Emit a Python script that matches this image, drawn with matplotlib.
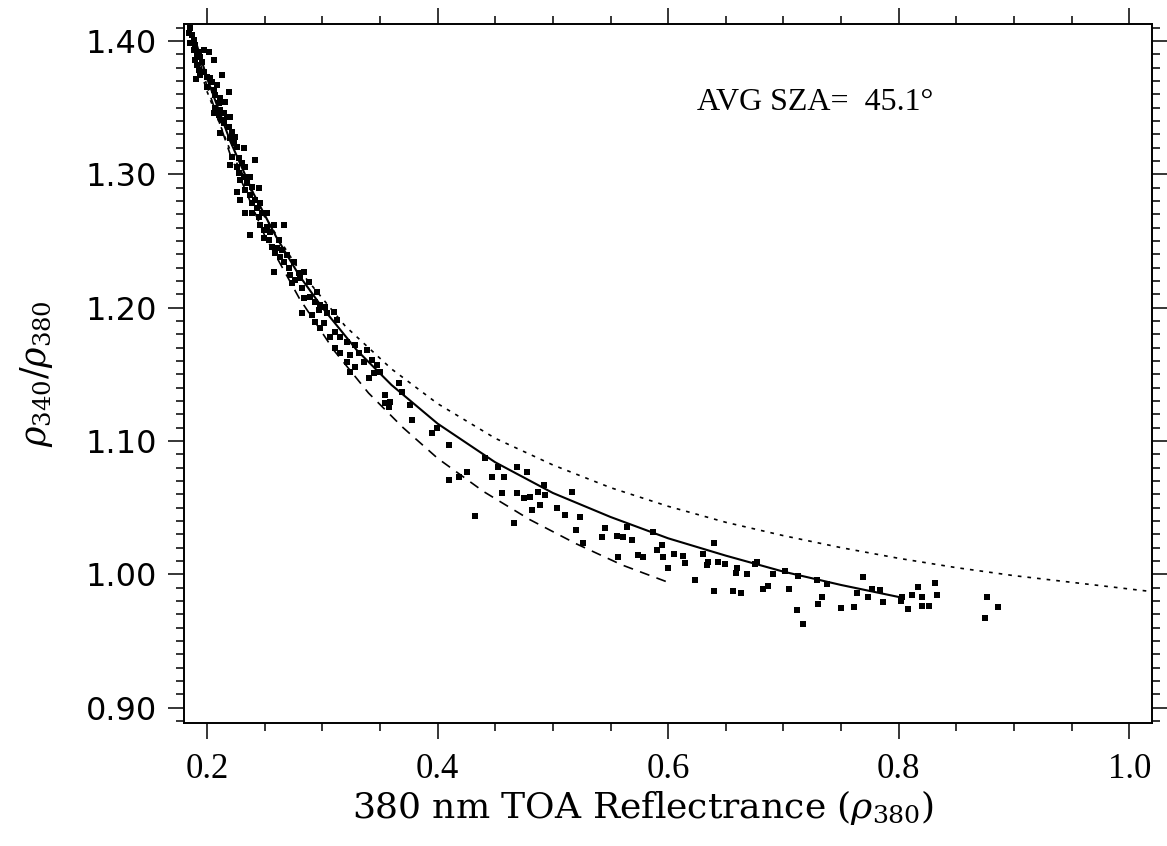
import matplotlib as mpl
import matplotlib.pyplot as plt
from matplotlib.ticker import MultipleLocator, FixedLocator

# scatter of retrieved points (rho380, rho340/rho380)
SCATTER_X = [
    0.1855, 0.1841, 0.1870, 0.1884, 0.1855, 0.1898, 0.1884, 0.1927, 0.1971, 0.2014,
    0.1913, 0.1942, 0.1898, 0.1956, 0.2058, 0.1913, 0.1927, 0.1971, 0.1942, 0.2000,
    0.2029, 0.2130, 0.1907, 0.2043, 0.2000, 0.2086, 0.2058, 0.2072, 0.2115, 0.2188,
    0.2101, 0.2159, 0.2072, 0.2115, 0.2101, 0.2144, 0.2058, 0.2173, 0.2130, 0.2202,
    0.2144, 0.2188, 0.2115, 0.2217, 0.2202, 0.2245, 0.2231, 0.2318, 0.2260, 0.2217,
    0.2274, 0.2419, 0.2202, 0.2260, 0.2303, 0.2332, 0.2274, 0.2318, 0.2376, 0.2289,
    0.2347, 0.2390, 0.2448, 0.2332, 0.2260, 0.2376, 0.2419, 0.2289, 0.2390, 0.2462,
    0.2433, 0.2332, 0.2390, 0.2477, 0.2520, 0.2448,
    0.2462, 0.2520, 0.2578, 0.2664, 0.2375, 0.2491, 0.2549, 0.2491, 0.2534, 0.2621,
    0.2563, 0.2607, 0.2650, 0.2592, 0.2636, 0.2693, 0.2751, 0.2664, 0.2578, 0.2708,
    0.2722, 0.2794, 0.2838, 0.2766, 0.2809, 0.2737, 0.2881, 0.2823, 0.2953, 0.2838,
    0.2896, 0.2939, 0.2982, 0.3026, 0.2823, 0.2910, 0.2968, 0.3040, 0.3098, 0.2939,
    0.3011, 0.3127, 0.2982, 0.3112, 0.3069, 0.3156, 0.3213, 0.3286, 0.3112, 0.3156,
    0.3242, 0.3315, 0.3387, 0.3213, 0.3286, 0.3358, 0.3430, 0.3474, 0.3445, 0.3503,
    0.3242, 0.3402,
    0.3661, 0.3690, 0.3546, 0.3589, 0.3546, 0.3575, 0.3763, 0.3777, 0.3950, 0.3994,
    0.4095, 0.4254, 0.4095, 0.4182, 0.4471, 0.4572, 0.4413, 0.4528, 0.4687, 0.4774,
    0.4557, 0.4687, 0.4745, 0.4803, 0.4875, 0.4890, 0.4919, 0.4933, 0.4817, 0.4659,
    0.4326,
    0.5164, 0.5106, 0.5237, 0.5034, 0.5202, 0.5265, 0.5424, 0.5453, 0.5554, 0.5612,
    0.5685, 0.5641, 0.5569, 0.5742, 0.5786, 0.5901, 0.5945, 0.5959, 0.6002, 0.6132,
    0.6147, 0.6234, 0.5872, 0.6054,
    0.6401, 0.6300, 0.6340, 0.6349, 0.6436, 0.6494, 0.6595, 0.6589, 0.6681, 0.6401,
    0.6566, 0.6630, 0.6754, 0.6768, 0.6820, 0.6869, 0.6913, 0.7014, 0.7051, 0.7129,
    0.7115, 0.7173, 0.7289, 0.7332, 0.7303, 0.7375, 0.7499, 0.7612, 0.7635, 0.7693,
    0.7736, 0.7765, 0.7837, 0.7866, 0.8025, 0.8017, 0.8083, 0.8112, 0.8170, 0.8199,
    0.8199, 0.8265, 0.8314, 0.8335,
    0.8762, 0.8863, 0.8748,
]
SCATTER_Y = [
    1.4095, 1.4058, 1.4045, 1.4008, 1.3983, 1.3970, 1.3933, 1.3920, 1.3933, 1.3920,
    1.3895, 1.3883, 1.3858, 1.3845, 1.3858, 1.3820, 1.3783, 1.3770, 1.3745, 1.3733,
    1.3720, 1.3745, 1.3713, 1.3695, 1.3658, 1.3670, 1.3633, 1.3595, 1.3570, 1.3620,
    1.3533, 1.3545, 1.3495, 1.3483, 1.3445, 1.3458, 1.3458, 1.3433, 1.3408, 1.3433,
    1.3383, 1.3358, 1.3308, 1.3320, 1.3270, 1.3283, 1.3233, 1.3200, 1.3208, 1.3133,
    1.3120, 1.3108, 1.3070, 1.3058, 1.3083, 1.3058, 1.3008, 1.2983, 1.2983, 1.2958,
    1.2933, 1.2908, 1.2895, 1.2883, 1.2870, 1.2845, 1.2808, 1.2808, 1.2783, 1.2783,
    1.2745, 1.2708, 1.2708, 1.2713, 1.2708, 1.2683,
    1.2620, 1.2608, 1.2620, 1.2620, 1.2545, 1.2583, 1.2570, 1.2520, 1.2508, 1.2508,
    1.2458, 1.2445, 1.2433, 1.2408, 1.2383, 1.2395, 1.2345, 1.2345, 1.2270, 1.2295,
    1.2245, 1.2258, 1.2270, 1.2208, 1.2220, 1.2183, 1.2195, 1.2145, 1.2120, 1.2070,
    1.2083, 1.2045, 1.2020, 1.2008, 1.1958, 1.1945, 1.1983, 1.1958, 1.1970, 1.1895,
    1.1883, 1.1908, 1.1845, 1.1820, 1.1783, 1.1783, 1.1745, 1.1720, 1.1695, 1.1658,
    1.1645, 1.1658, 1.1683, 1.1595, 1.1558, 1.1595, 1.1608, 1.1570, 1.1508, 1.1520,
    1.1520, 1.1470,
    1.1432, 1.1370, 1.1345, 1.1295, 1.1283, 1.1258, 1.1270, 1.1158, 1.1058, 1.1095,
    1.0970, 1.0770, 1.0708, 1.0733, 1.0733, 1.0733, 1.0870, 1.0808, 1.0808, 1.0770,
    1.0608, 1.0608, 1.0570, 1.0583, 1.0620, 1.0520, 1.0670, 1.0595, 1.0483, 1.0383,
    1.0440,
    1.0620, 1.0445, 1.0433, 1.0495, 1.0333, 1.0233, 1.0283, 1.0345, 1.0288, 1.0283,
    1.0258, 1.0358, 1.0133, 1.0145, 1.0133, 1.0183, 1.0220, 1.0133, 1.0045, 1.0138,
    1.0083, 0.9958, 1.0320, 1.0150,
    1.0238, 1.0150, 1.0070, 1.0095, 1.0090, 1.0075, 1.0045, 1.0008, 1.0003, 0.9878,
    0.9878, 0.9858, 1.0078, 1.0095, 0.9890, 0.9913, 1.0000, 1.0028, 0.9888, 0.9988,
    0.9733, 0.9628, 0.9958, 0.9833, 0.9775, 0.9925, 0.9750, 0.9758, 0.9863, 0.9983,
    0.9828, 0.9888, 0.9883, 0.9795, 0.9833, 0.9803, 0.9738, 0.9845, 0.9903, 0.9828,
    0.9763, 0.9763, 0.9933, 0.9845,
    0.9833, 0.9753, 0.9670,
]

# fitted curve (solid)
FIT_X = [0.19, 0.20, 0.22, 0.24, 0.26, 0.28, 0.30, 0.33, 0.36, 0.40,
         0.45, 0.50, 0.55, 0.60, 0.65, 0.70, 0.75, 0.80]
FIT_Y = [1.400, 1.372, 1.325, 1.286, 1.253, 1.224, 1.200, 1.168, 1.142, 1.113,
         1.084, 1.061, 1.043, 1.027, 1.014, 1.002, 0.992, 0.983]

# dashed model curve
DASH_X = [0.19, 0.20, 0.22, 0.25, 0.28, 0.31, 0.34, 0.37, 0.40, 0.44,
          0.48, 0.52, 0.56, 0.60]
DASH_Y = [1.395, 1.366, 1.315, 1.254, 1.207, 1.168, 1.136, 1.110, 1.087, 1.062,
          1.041, 1.023, 1.007, 0.994]

# dotted model curve
DOT_X = [0.19, 0.20, 0.22, 0.25, 0.28, 0.32, 0.36, 0.40, 0.45, 0.50,
         0.55, 0.60, 0.65, 0.70, 0.75, 0.80, 0.85, 0.90, 0.95, 1.02]
DOT_Y = [1.390, 1.362, 1.318, 1.268, 1.228, 1.186, 1.154, 1.128, 1.102, 1.082,
         1.065, 1.051, 1.039, 1.029, 1.020, 1.012, 1.005, 0.999, 0.994, 0.987]

X_TICKS = [0.2, 0.4, 0.6, 0.8, 1.0]
X_TICK_LABELS = ["0.2", "0.4", "0.6", "0.8", "1.0"]
Y_TICKS = [0.90, 1.00, 1.10, 1.20, 1.30, 1.40]
Y_TICK_LABELS = ["0.90", "1.00", "1.10", "1.20", "1.30", "1.40"]
AVG_SZA = 45.1


def main():
    mpl.rcParams.update({"mathtext.fontset": "dejavuserif"})

    fig = plt.figure(figsize=(11.67, 8.46), dpi=100)
    fig.patch.set_facecolor("white")
    ax = fig.add_axes([0.1577, 0.1454, 0.8297, 0.8259])

    ax.scatter(SCATTER_X, SCATTER_Y, s=13, marker="s", color="black", linewidths=0, zorder=3)
    ax.plot(FIT_X, FIT_Y, color="black", lw=1.5, zorder=4)
    ax.plot(DASH_X, DASH_Y, color="black", lw=1.2, dashes=(6, 4.5), zorder=2)
    ax.plot(DOT_X, DOT_Y, color="black", lw=1.2, dashes=(2.2, 3.6), zorder=2)

    ax.set_xlim(0.18, 1.02)
    ax.set_ylim(0.8885, 1.4125)

    ax.xaxis.set_major_locator(FixedLocator(X_TICKS))
    ax.set_xticklabels(X_TICK_LABELS)
    ax.xaxis.set_minor_locator(MultipleLocator(0.05))
    ax.yaxis.set_major_locator(FixedLocator(Y_TICKS))
    ax.set_yticklabels(Y_TICK_LABELS)
    ax.yaxis.set_minor_locator(MultipleLocator(0.01))

    ax.tick_params(which="both", direction="out", top=True, right=True, width=1.1, color="black")
    ax.tick_params(which="major", length=11.5)
    ax.tick_params(which="minor", length=5.8)
    ax.tick_params(axis="x", which="major", pad=10)
    ax.tick_params(axis="y", which="major", pad=8)
    for lab in ax.get_xticklabels():
        lab.set_fontfamily("Liberation Serif")
        lab.set_fontsize(25)
    for lab in ax.get_yticklabels():
        lab.set_fontfamily("DejaVu Sans")
        lab.set_fontsize(23)
    for sp in ax.spines.values():
        sp.set_linewidth(1.4)

    ax.set_xlabel(r"380 nm TOA Reflectrance ($\rho_{380}$)", fontfamily="DejaVu Serif",
                  fontsize=26)
    ax.xaxis.set_label_coords(0.474, -0.093)
    ax.set_ylabel(r"$\rho_{340}/\rho_{380}$", fontsize=25)
    ax.yaxis.set_label_coords(-0.133, 0.5)

    ax.text(0.625, 1.3535, f"AVG SZA=  {AVG_SZA:.1f}\u00b0", fontfamily="Liberation Serif",
            fontsize=23, ha="left", va="center")

    fig.savefig("out.png", dpi=100)
    plt.close(fig)


if __name__ == "__main__":
    main()
